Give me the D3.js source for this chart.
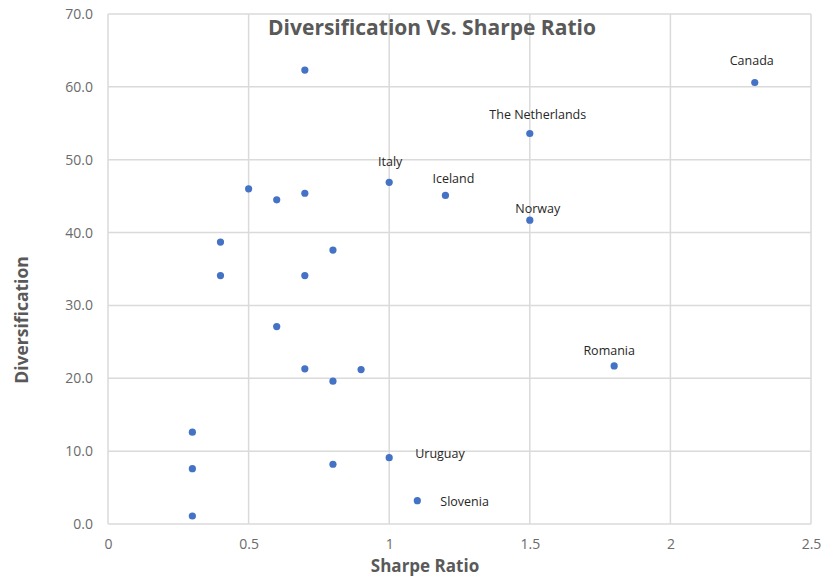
<!DOCTYPE html>
<html lang="en">
<head>
  <meta charset="UTF-8">
  <title>Diversification Vs. Sharpe Ratio</title>
  <script src="https://cdn.jsdelivr.net/npm/d3@7/dist/d3.min.js"></script>
  <style>
    body { margin: 0; background: #fff; }
  </style>
</head>
<body>
  <div id="chart"></div>

  <script>
    // Data
    var sharpe = [0.7, 2.3, 1.5, 1.0, 1.2, 0.5, 0.6, 0.7, 1.5, 0.4, 0.8, 0.4, 0.7,
                  0.6, 0.7, 0.9, 0.8, 1.8, 0.3, 0.3, 0.3, 0.8, 1.0, 1.1];
    var diversification = [62.3, 60.6, 53.6, 46.9, 45.1, 46.0, 44.5, 45.4, 41.7, 38.7, 37.6, 34.1, 34.1,
                           27.1, 21.3, 21.2, 19.6, 21.7, 12.6, 7.6, 1.1, 8.2, 9.1, 3.2];
    var countries = ["", "Canada", "The Netherlands", "Italy", "Iceland", "", "", "", "Norway", "", "", "", "",
                     "", "", "", "", "Romania", "", "", "", "", "Uruguay", "Slovenia"];

    var xTicks = [0, 0.5, 1, 1.5, 2, 2.5];
    var yTicks = [0, 10, 20, 30, 40, 50, 60, 70];

    // label placement (pixels from the dot), as the labels were dragged in the original
    var labelNudge = {
      "Canada": [-3, -22], "The Netherlands": [8, -19], "Italy": [1, -21],
      "Iceland": [8, -17], "Norway": [8, -12], "Romania": [-5, -15],
      "Uruguay": [26, -4], "Slovenia": [23, 1]
    };

    var points = sharpe.map(function (s, i) {
      return { x: s, y: diversification[i], name: countries[i] };
    });

    var W = 824, H = 577;
    var margin = { top: 14, right: 13, bottom: 53, left: 108 };
    var width = W - margin.left - margin.right,
        height = H - margin.top - margin.bottom;

    var font = "'Open Sans', 'DejaVu Sans', sans-serif";

    var svg = d3.select("#chart")
      .append("svg")
      .attr("width", W)
      .attr("height", H)
      .style("font-family", font);

    var g = svg.append("g")
      .attr("transform", "translate(" + margin.left + "," + margin.top + ")");

    var x = d3.scaleLinear().domain([0, 2.5]).range([0, width]);
    var y = d3.scaleLinear().domain([0, 70]).range([height, 0]);

    // gridlines
    g.append("g")
      .selectAll("line")
      .data(xTicks)
      .enter()
      .append("line")
      .attr("x1", function (d) { return x(d); })
      .attr("x2", function (d) { return x(d); })
      .attr("y1", 0)
      .attr("y2", height)
      .attr("stroke", "#dadada")
      .attr("stroke-width", 1.5);

    g.append("g")
      .selectAll("line")
      .data(yTicks)
      .enter()
      .append("line")
      .attr("x1", 0)
      .attr("x2", width)
      .attr("y1", function (d) { return y(d); })
      .attr("y2", function (d) { return y(d); })
      .attr("stroke", "#dadada")
      .attr("stroke-width", 1.5);

    // axes (labels only)
    var xAxis = g.append("g")
      .attr("transform", "translate(0," + height + ")")
      .call(d3.axisBottom(x).tickValues(xTicks).tickSize(0).tickPadding(15)
        .tickFormat(function (d) { return d3.format("")(d); }));
    var yAxis = g.append("g")
      .call(d3.axisLeft(y).tickValues(yTicks).tickSize(0).tickPadding(15)
        .tickFormat(d3.format(".1f")));

    [xAxis, yAxis].forEach(function (a) {
      a.select(".domain").remove();
      a.selectAll("text")
        .style("font-family", font)
        .style("font-size", "14px")
        .attr("fill", "#6b6b6b");
    });

    // dots
    g.append("g")
      .selectAll("circle")
      .data(points)
      .enter()
      .append("circle")
      .attr("cx", function (d) { return x(d.x); })
      .attr("cy", function (d) { return y(d.y); })
      .attr("r", 3.6)
      .attr("fill", "#4472c4");

    // data labels
    g.append("g")
      .selectAll("text")
      .data(points.filter(function (d) { return d.name; }))
      .enter()
      .append("text")
      .attr("x", function (d) { return x(d.x) + labelNudge[d.name][0]; })
      .attr("y", function (d) { return y(d.y) + labelNudge[d.name][1]; })
      .attr("dy", "0.35em")
      .attr("text-anchor", function (d) { return labelNudge[d.name][0] > 15 ? "start" : "middle"; })
      .style("font-size", "12.5px")
      .attr("fill", "#262626")
      .text(function (d) { return d.name; });

    // title
    svg.append("text")
      .attr("x", 432)
      .attr("y", 35)
      .attr("text-anchor", "middle")
      .style("font-size", "21px")
      .style("font-weight", "bold")
      .attr("fill", "#595959")
      .text("Diversification Vs. Sharpe Ratio");

    // axis titles
    svg.append("text")
      .attr("x", 425)
      .attr("y", 572)
      .attr("text-anchor", "middle")
      .style("font-size", "17px")
      .style("font-weight", "bold")
      .attr("fill", "#595959")
      .text("Sharpe Ratio");

    svg.append("text")
      .attr("transform", "translate(28,320) rotate(-90)")
      .attr("text-anchor", "middle")
      .style("font-size", "17.5px")
      .style("font-weight", "bold")
      .attr("fill", "#595959")
      .text("Diversification");
  </script>
</body>
</html>
